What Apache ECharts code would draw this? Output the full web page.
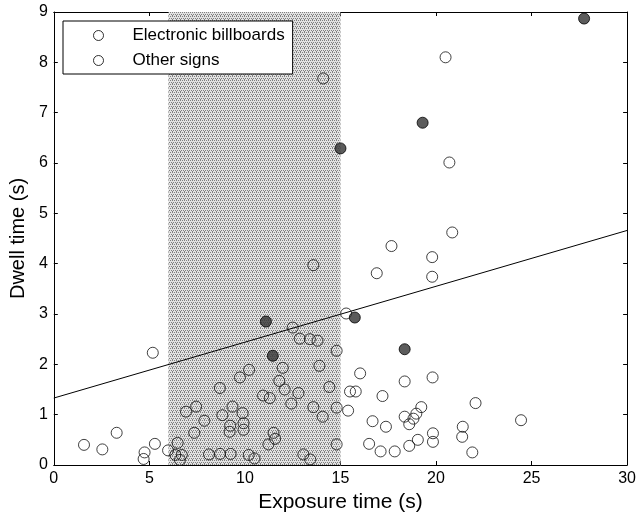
<!DOCTYPE html>
<html>
<head>
<meta charset="utf-8">
<script src="https://cdn.jsdelivr.net/npm/echarts@6/dist/echarts.min.js"></script>
<style>
  html, body { margin: 0; padding: 0; background: #fff; }
  .echarts { width: 639px; height: 522px; }
</style>
</head>
<body>
<div class="echarts"></div>
<script>
// Electronic billboards (filled markers)
var billboardX = [27.75, 19.3, 15.0, 11.1, 15.75, 18.36, 11.46];
var billboardY = [8.87, 6.8, 6.29, 2.85, 2.93, 2.3, 2.17];

// Other signs (open markers)
var otherX = [14.1, 20.5, 20.7, 20.85, 17.67, 19.8, 19.8, 16.9, 13.58, 15.3,
  12.5, 12.87, 13.4, 13.8, 14.8, 5.18, 11.98, 13.9, 10.22, 9.74,
  11.8, 8.69, 12.08, 12.8, 10.95, 11.3, 12.43, 13.58, 9.35, 7.45,
  6.92, 8.82, 9.88, 7.88, 9.93, 9.23, 9.2, 9.93, 7.35, 11.5,
  11.58, 11.23, 3.29, 1.58, 2.54, 4.75, 4.7, 5.29, 5.98, 6.48,
  6.36, 6.7, 6.6, 8.12, 8.7, 9.25, 10.2, 10.5, 13.06, 13.42,
  14.07, 14.8, 15.4, 14.42, 15.5, 15.8, 16.03, 18.36, 19.82, 17.2,
  16.68, 17.38, 18.36, 18.6, 18.82, 18.97, 19.23, 16.5, 17.1, 17.84,
  18.6, 19.05, 19.84, 19.84, 21.4, 21.37, 21.9, 22.07, 24.45, 14.8];
var otherY = [7.68, 8.1, 6.01, 4.62, 4.35, 4.13, 3.74, 3.81, 3.97, 3.01,
  2.73, 2.51, 2.5, 2.47, 2.27, 2.23, 1.93, 1.97, 1.89, 1.74,
  1.67, 1.53, 1.5, 1.43, 1.38, 1.33, 1.22, 1.15, 1.16, 1.16,
  1.06, 0.99, 1.03, 0.88, 0.83, 0.78, 0.66, 0.7, 0.64, 0.64,
  0.52, 0.41, 0.64, 0.4, 0.31, 0.25, 0.12, 0.42, 0.29, 0.44,
  0.2, 0.2, 0.1, 0.21, 0.22, 0.22, 0.2, 0.13, 0.21, 0.11,
  0.96, 1.14, 1.08, 1.55, 1.46, 1.46, 1.82, 1.66, 1.74, 1.37,
  0.87, 0.76, 0.96, 0.81, 0.92, 1.02, 1.15, 0.42, 0.27, 0.27,
  0.38, 0.5, 0.63, 0.46, 0.76, 0.56, 0.25, 1.23, 0.89, 0.41];

// fitted trend line end points
var fitX = [0, 30];
var fitY = [1.33, 4.66];

// shaded exposure window
var windowX = [6, 15];

var xTicks = [0, 5, 10, 15, 20, 25, 30];
var yTicks = [0, 1, 2, 3, 4, 5, 6, 7, 8, 9];

function pairs(xs, ys) {
  return xs.map(function (x, i) { return [x, ys[i]]; });
}

// small stipple texture for the shaded window
function stipple() {
  var c = document.createElement('canvas');
  c.width = 4; c.height = 4;
  var g = c.getContext('2d');
  g.fillStyle = '#e2e2e2';
  g.fillRect(0, 0, 4, 4);
  g.fillStyle = '#808080';
  [[0, 0], [2, 0], [1, 2], [3, 2], [0, 3]].forEach(function (p) { g.fillRect(p[0], p[1], 1, 1); });
  return c;
}

window.addEventListener('load', function () {
  var myChart = echarts.init(document.querySelector('.echarts'), null, { renderer: 'canvas' });
  var font = 'Liberation Sans';

  var axisCommon = {
    type: 'value',
    axisLine: { show: true, onZero: false, lineStyle: { color: '#000', width: 1 } },
    axisTick: { show: true, inside: true, length: 4, lineStyle: { color: '#000' } },
    splitLine: { show: false }
  };

  var option = {
    animation: false,
    backgroundColor: '#fff',
    grid: { left: 53, right: 11, top: 12, bottom: 57 },
    legend: {
      left: 63, top: 21,
      orient: 'vertical',
      backgroundColor: '#fff',
      borderColor: '#000',
      borderWidth: 1,
      borderRadius: 0,
      padding: [6, 8, 5, 30],
      itemWidth: 58,
      itemHeight: 10,
      itemGap: 8,
      textStyle: { fontFamily: font, fontSize: 17, color: '#000' },
      data: [
        { name: 'Electronic billboards', icon: 'circle', itemStyle: { color: '#fff', borderColor: '#000', borderWidth: 1 } },
        { name: 'Other signs', icon: 'circle', itemStyle: { color: '#fff', borderColor: '#000', borderWidth: 1 } }
      ]
    },
    xAxis: [
      Object.assign({}, axisCommon, {
        min: 0, max: 30, interval: 5,
        position: 'bottom',
        name: 'Exposure time (s)',
        nameLocation: 'middle',
        nameGap: 25,
        nameTextStyle: { fontFamily: font, fontSize: 21, color: '#000' },
        axisLabel: {
          fontFamily: font, fontSize: 16, color: '#000', margin: 6,
          formatter: function (v) { return xTicks.indexOf(v) >= 0 ? String(v) : ''; }
        }
      }),
      Object.assign({}, axisCommon, {
        min: 0, max: 30, interval: 5, position: 'top',
        axisLabel: { show: false }
      })
    ],
    yAxis: [
      Object.assign({}, axisCommon, {
        min: 0, max: 9, interval: 1,
        position: 'left',
        name: 'Dwell time (s)',
        nameLocation: 'middle',
        nameGap: 25,
        nameTextStyle: { fontFamily: font, fontSize: 20, color: '#000' },
        axisLabel: {
          fontFamily: font, fontSize: 16, color: '#000', margin: 6,
          formatter: function (v) { return yTicks.indexOf(v) >= 0 ? String(v) : ''; }
        }
      }),
      Object.assign({}, axisCommon, {
        min: 0, max: 9, interval: 1, position: 'right',
        axisLabel: { show: false }
      })
    ],
    series: [
      {
        name: 'window',
        type: 'line',
        data: [],
        z: 0,
        silent: true,
        markArea: {
          silent: true,
          itemStyle: { color: { image: stipple(), repeat: 'repeat' } },
          data: [[{ xAxis: windowX[0] }, { xAxis: windowX[1] }]]
        }
      },
      {
        name: 'fit',
        type: 'line',
        data: pairs(fitX, fitY),
        symbol: 'none',
        z: 3,
        lineStyle: { color: '#000', width: 1 }
      },
      {
        name: 'Other signs',
        type: 'scatter',
        data: pairs(otherX, otherY),
        symbol: 'circle',
        symbolSize: 11,
        z: 4,
        itemStyle: { color: 'rgba(255,255,255,0)', borderColor: '#111', borderWidth: 1 }
      },
      {
        name: 'Electronic billboards',
        type: 'scatter',
        data: pairs(billboardX, billboardY),
        symbol: 'circle',
        symbolSize: 11,
        z: 5,
        itemStyle: { color: '#333', borderColor: '#000', borderWidth: 1 }
      }
    ]
  };
  myChart.setOption(option);
});
</script>
</body>
</html>
